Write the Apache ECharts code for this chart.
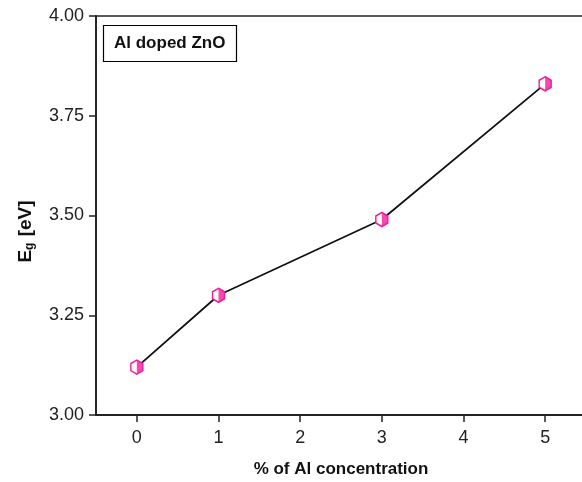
<!DOCTYPE html>
<html><head><meta charset="utf-8">
<script src="https://cdn.jsdelivr.net/npm/echarts@6/dist/echarts.min.js"></script>
<style>html,body{margin:0;padding:0;background:#fff}#c{width:582px;height:482px}</style>
</head><body><div id="c"></div>
<script>
const concentration = [0, 1, 3, 5];
const bandGap = [3.12, 3.30, 3.49, 3.83];
const yTicks = [3.00, 3.25, 3.50, 3.75, 4.00];
const xTicks = [0, 1, 2, 3, 4, 5];

const pts = concentration.map((c, i) => [c, bandGap[i]]);
const hexFull = 'path://M5,0 L10,2.5 L10,7.5 L5,10 L0,7.5 L0,2.5 Z';
const hexHalf = 'path://M5,0 L10,2.5 L10,7.5 L5,10 Z';
const mag = '#f01ba0';
const ff = 'Liberation Sans';
const chart = echarts.init(document.getElementById('c'));
chart.setOption({
  animation: false,
  title: {
    text: 'Al doped ZnO', left: 103, top: 25,
    borderColor: '#000', borderWidth: 1.2, padding: [10, 11, 10, 11],
    textStyle: { fontFamily: ff, fontWeight: 'bold', fontSize: 17, color: '#111' }
  },
  grid: { left: 96, top: 16, width: 490, height: 399, outerBoundsMode: 'none', containLabel: false,
    show: true, borderColor: '#222', borderWidth: 1.5, backgroundColor: 'transparent' },
  xAxis: {
    type: 'value', min: -0.5, max: 5.5, interval: 1,
    name: '% of Al concentration', nameLocation: 'middle', nameGap: 46,
    nameTextStyle: { fontFamily: ff, fontWeight: 'bold', fontSize: 17, color: '#111' },
    axisLine: { show: true, onZero: false, lineStyle: { color: '#222', width: 1.8 } },
    axisTick: { show: true, length: 7, lineStyle: { color: '#222', width: 1.5 },
      customValues: xTicks },
    axisLabel: { fontFamily: ff, fontSize: 18, color: '#222', margin: 14,
      customValues: xTicks, formatter: v => String(v) },
    splitLine: { show: false }
  },
  yAxis: {
    type: 'value', min: 3.0, max: 4.0, interval: 0.25,
    name: '{e|E}{g|g}{e| [eV]}', nameLocation: 'middle', nameGap: 60, nameRotate: 90,
    nameTextStyle: { padding: [0, 32, 0, 0], rich: {
      e: { fontFamily: ff, fontWeight: 'bold', fontSize: 19, color: '#111' },
      g: { fontFamily: ff, fontWeight: 'bold', fontSize: 12, color: '#111', verticalAlign: 'bottom', padding: [8, 1, 0, 0] }
    } },
    axisLine: { show: true, onZero: false, lineStyle: { color: '#222', width: 1.8 } },
    axisTick: { show: true, length: 7, lineStyle: { color: '#222', width: 1.5 } },
    axisLabel: { fontFamily: ff, fontSize: 18, color: '#222', margin: 12,
      formatter: v => v.toFixed(2) },
    splitLine: { show: false }
  },
  series: [
    {
      type: 'line', data: pts, symbol: hexFull, symbolSize: [12, 14],
      itemStyle: { color: '#fff', borderColor: mag, borderWidth: 1.5 },
      lineStyle: { color: '#111', width: 1.8 }, z: 3
    },
    {
      type: 'scatter', data: pts, symbol: hexHalf, symbolSize: [6, 14], symbolOffset: [3, 0],
      itemStyle: { color: mag }, z: 4
    }
  ]
});
</script></body></html>
